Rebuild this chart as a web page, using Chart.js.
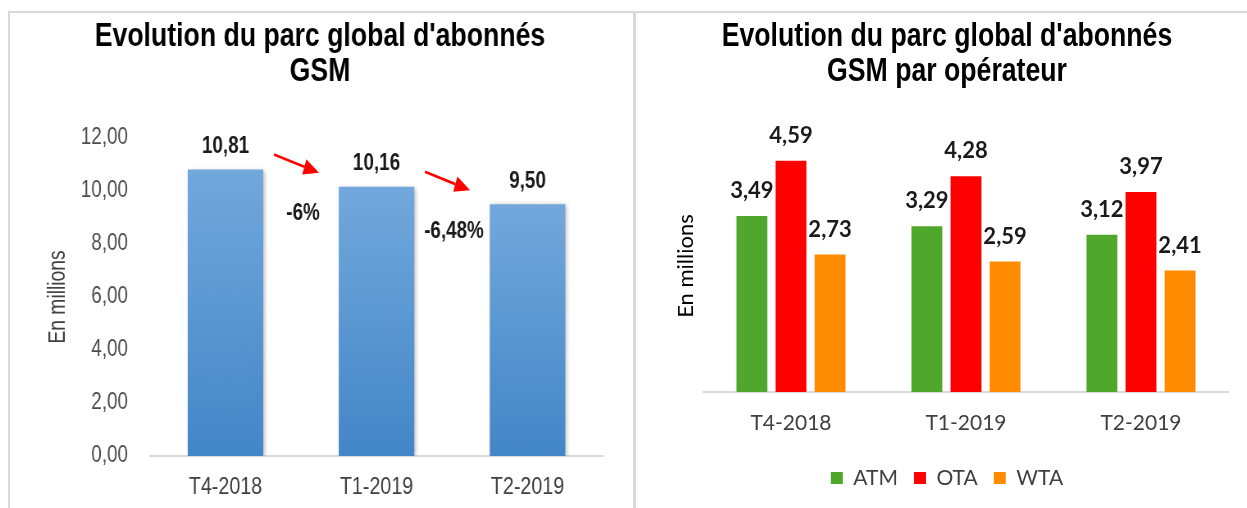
<!DOCTYPE html>
<html>
<head>
<meta charset="utf-8">
<script src="https://cdn.jsdelivr.net/npm/chart.js@4.4.1/dist/chart.umd.min.js"></script>
<style>
    html, body { margin: 0; padding: 0; background: #ffffff; }
    body { width: 1247px; height: 508px; position: relative; overflow: hidden; }
    .line { position: absolute; background: #d9d9d9; }
    canvas { position: absolute; top: 0; }
    /* the left chart is drawn wide and squeezed, so its Arial looks like Arial Narrow */
    #totalChart { left: 0; transform: scaleX(0.82); transform-origin: 0 0; }
    #operatorChart { left: 636px; }
</style>
</head>
<body>
<div class="line" style="left:8px; top:11px; width:1239px; height:2px;"></div>
<div class="line" style="left:8px; top:11px; width:2px; height:497px;"></div>
<div class="line" style="left:633px; top:11px; width:3px; height:497px;"></div>
<canvas id="totalChart" width="768" height="508"></canvas>
<canvas id="operatorChart" width="611" height="508"></canvas>

<script>
// Data
const categories = ["T4-2018", "T1-2019", "T2-2019"];
const totalSubscribers = [10.81, 10.16, 9.50];
const variationLabels = ["-6%", "-6,48%"];

const operators = ["ATM", "OTA", "WTA"];
const atmValues = [3.49, 3.29, 3.12];
const otaValues = [4.59, 4.28, 3.97];
const wtaValues = [2.73, 2.59, 2.41];
const operatorColors = ["#4fa82b", "#ff0000", "#ff8c00"];

const arialFont = "'Liberation Sans', Arial, sans-serif";
const calibriLike = "Lato, 'Open Sans', sans-serif";
const narrowRatio = 0.82;

function frNumber(v) {
    return v.toFixed(2).replace(".", ",");
}

document.addEventListener("DOMContentLoaded", function () {
    // Left chart: total subscribers
    const barShadow = {
        id: "barShadow",
        beforeDatasetsDraw(chart) {
            const ctx = chart.ctx;
            ctx.save();
            ctx.shadowColor = "rgba(0, 0, 0, 0.3)";
            ctx.shadowBlur = 5;
            ctx.shadowOffsetX = 2;
            ctx.shadowOffsetY = 1;
        },
        afterDatasetsDraw(chart) {
            chart.ctx.restore();
        }
    };

    function drawArrow(ctx, x0, y0, x1, y1) {
        const angle = Math.atan2(y1 - y0, x1 - x0);
        const headLen = 19, headHalf = 8;
        const bx = x1 - headLen * Math.cos(angle);
        const by = y1 - headLen * Math.sin(angle);
        ctx.strokeStyle = "#ff0000";
        ctx.fillStyle = "#ff0000";
        ctx.lineWidth = 2.8;
        ctx.beginPath();
        ctx.moveTo(x0, y0);
        ctx.lineTo(bx, by);
        ctx.stroke();
        ctx.beginPath();
        ctx.moveTo(x1, y1);
        ctx.lineTo(bx + headHalf * Math.sin(angle), by - headHalf * Math.cos(angle));
        ctx.lineTo(bx - headHalf * Math.sin(angle), by + headHalf * Math.cos(angle));
        ctx.closePath();
        ctx.fill();
    }

    const totalLabels = {
        id: "totalLabels",
        afterDatasetsDraw(chart) {
            const ctx = chart.ctx;
            const bars = chart.getDatasetMeta(0).data;
            ctx.save();
            ctx.font = "bold 23px " + arialFont;
            ctx.fillStyle = "#1a1a1a";
            ctx.textAlign = "center";
            ctx.textBaseline = "middle";
            bars.forEach((bar, i) => {
                ctx.fillText(frNumber(totalSubscribers[i]), bar.x, bar.y - 23);
            });
            variationLabels.forEach((txt, i) => {
                const a = bars[i], b = bars[i + 1];
                const mid = (a.x + b.x) / 2;
                ctx.fillStyle = "#1a1a1a";
                ctx.fillText(txt, mid + 2.4, b.y + 27);
                drawArrow(ctx, mid - 33, a.y - 15, mid + 22, b.y - 14);
            });
            ctx.restore();
        }
    };

    // rotated axis title: squeezed along its length, not across it
    const narrowYTitle = {
        id: "narrowYTitle",
        afterDraw(chart, args, opts) {
            const ctx = chart.ctx;
            const area = chart.chartArea;
            ctx.save();
            ctx.translate(opts.x, (area.top + area.bottom) / 2);
            ctx.rotate(-Math.PI / 2);
            ctx.scale(narrowRatio, 1 / narrowRatio);
            ctx.font = "23.5px " + arialFont;
            ctx.fillStyle = "#404040";
            ctx.textAlign = "center";
            ctx.textBaseline = "middle";
            ctx.fillText(opts.text, 0, 0);
            ctx.restore();
        }
    };

    new Chart(document.getElementById("totalChart").getContext("2d"), {
        type: "bar",
        data: {
            labels: categories,
            datasets: [{
                label: "Abonnés GSM",
                data: totalSubscribers,
                backgroundColor: function (c) {
                    const chart = c.chart;
                    const area = chart.chartArea;
                    if (!area) return "#5b9bd5";
                    const top = chart.scales.y.getPixelForValue(c.raw);
                    const g = chart.ctx.createLinearGradient(0, top, 0, area.bottom);
                    g.addColorStop(0, "#72a8dc");
                    g.addColorStop(1, "#4386c7");
                    return g;
                },
                borderWidth: 0,
                barPercentage: 0.5,
                categoryPercentage: 1
            }]
        },
        options: {
            responsive: false,
            animation: false,
            layout: { padding: { left: 45, right: 32.6, top: 0, bottom: 0 } },
            plugins: {
                legend: { display: false },
                tooltip: { enabled: false },
                title: {
                    display: true,
                    text: ["Evolution du parc global d'abonnés", "GSM"],
                    color: "#000000",
                    font: { family: arialFont, size: 32.5, weight: "bold", lineHeight: 1.08 },
                    padding: { top: 19.4, bottom: 48.4 }
                },
                narrowYTitle: { text: "En millions", x: 71 }
            },
            scales: {
                x: {
                    grid: { display: false, drawTicks: false },
                    border: { display: true, color: "#d9d9d9", width: 2 },
                    ticks: { color: "#404040", padding: 16.6, font: { family: arialFont, size: 24 } },
                    afterFit: s => { s.height = 52; }
                },
                y: {
                    min: 0,
                    max: 12,
                    grid: { display: false, drawTicks: false },
                    border: { display: false },
                    ticks: {
                        stepSize: 2,
                        padding: 26.8,
                        color: "#4d4d4d",
                        font: { family: arialFont, size: 23 },
                        callback: v => frNumber(v)
                    },
                    afterFit: s => { s.width = 137.9; }
                }
            }
        },
        plugins: [barShadow, totalLabels, narrowYTitle]
    });

    // Right chart: subscribers by operator
    const operatorLabels = {
        id: "operatorLabels",
        afterDatasetsDraw(chart) {
            const ctx = chart.ctx;
            ctx.save();
            ctx.font = "bold 22px " + calibriLike;
            ctx.fillStyle = "#1a1a1a";
            ctx.textAlign = "center";
            ctx.textBaseline = "middle";
            chart.data.datasets.forEach((ds, d) => {
                chart.getDatasetMeta(d).data.forEach((bar, i) => {
                    ctx.fillText(frNumber(ds.data[i]), bar.x, bar.y - 25);
                });
            });
            ctx.restore();
        }
    };

    // title in a squeezed Arial, like the left one
    const narrowTitle = {
        id: "narrowTitle",
        afterDraw(chart, args, opts) {
            const ctx = chart.ctx;
            ctx.save();
            ctx.translate(chart.width / 2 + opts.shift, 0);
            ctx.scale(narrowRatio, 1);
            ctx.font = "bold 32.5px " + arialFont;
            ctx.fillStyle = "#000000";
            ctx.textAlign = "center";
            ctx.textBaseline = "middle";
            opts.lines.forEach((t, i) => ctx.fillText(t, 0, opts.top + i * opts.lineHeight));
            ctx.restore();
        }
    };

    const operatorSeries = [atmValues, otaValues, wtaValues];

    new Chart(document.getElementById("operatorChart").getContext("2d"), {
        type: "bar",
        data: {
            labels: categories,
            datasets: operators.map((name, i) => ({
                label: name,
                data: operatorSeries[i],
                backgroundColor: operatorColors[i],
                borderWidth: 0,
                barPercentage: 0.79,
                categoryPercentage: 0.67
            }))
        },
        options: {
            responsive: false,
            animation: false,
            layout: { padding: { left: 29.5, right: 18.5, top: 140, bottom: 9.5 } },
            plugins: {
                tooltip: { enabled: false },
                title: { display: false },
                narrowTitle: {
                    lines: ["Evolution du parc global d'abonnés", "GSM par opérateur"],
                    shift: 5.5,
                    top: 37,
                    lineHeight: 35
                },
                legend: {
                    position: "bottom",
                    labels: {
                        boxWidth: 12,
                        boxHeight: 12,
                        padding: 16,
                        color: "#404040",
                        font: { family: calibriLike, size: 21 }
                    }
                }
            },
            scales: {
                x: {
                    grid: { display: false, drawTicks: false },
                    border: { display: true, color: "#d9d9d9", width: 2 },
                    ticks: { color: "#404040", padding: 18.4, font: { family: calibriLike, size: 21 } },
                    afterFit: s => { s.height = 59.5; }
                },
                y: {
                    min: 0,
                    max: 5,
                    grid: { display: false, drawTicks: false },
                    border: { display: false },
                    ticks: { display: false },
                    title: {
                        display: true,
                        text: "En millions",
                        color: "#000000",
                        font: { family: calibriLike, size: 22 },
                        padding: { top: 7.3, bottom: 0 }
                    },
                    afterFit: s => { s.width = 38; }
                }
            }
        },
        plugins: [operatorLabels, narrowTitle]
    });
});
</script>
</body>
</html>
